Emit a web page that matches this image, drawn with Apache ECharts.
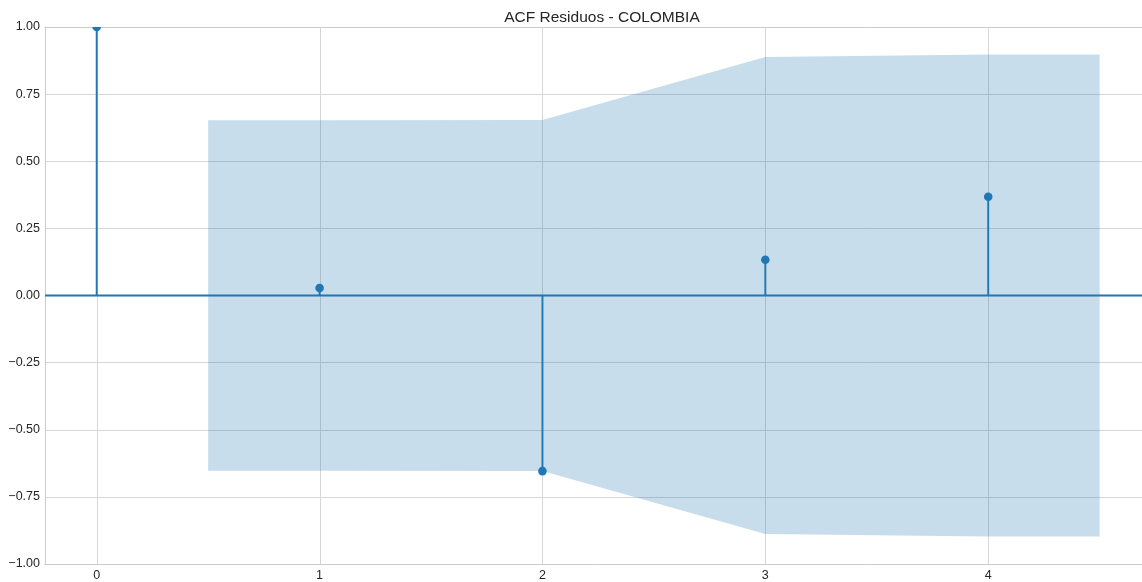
<!DOCTYPE html>
<html>
<head>
<meta charset="utf-8">
<script src="https://cdn.jsdelivr.net/npm/echarts@6/dist/echarts.min.js"></script>
<style>
  html, body { margin: 0; padding: 0; background: #ffffff; }
  #chart { width: 1142px; height: 582px; }
</style>
</head>
<body>
<div id="chart"></div>
<script>
// Autocorrelation of the residuals, lags 0..4
const lags = [0, 1, 2, 3, 4];
const acfValues = [1.0, 0.028, -0.654, 0.133, 0.368];

// Confidence band half-width (band spans lag 0.5 to 4.5)
const bandX = [0.5, 1, 2, 3, 4, 4.5];
const bandHalf = [0.653, 0.653, 0.654, 0.888, 0.898, 0.898];

const xTickLabels = [0, 1, 2, 3, 4];

const X_MIN = -0.232;
const X_MAX = 4.69;

const blue = '#1f77b4';
const gridGray = '#d6d6d6';
const spineGray = '#cccccc';
const textColor = '#262626';
const font = 'Liberation Sans, Arial, sans-serif';

const chart = echarts.init(document.getElementById('chart'), null, { renderer: 'canvas' });

const bandData = bandX.map((x, i) => [x, bandHalf[i]]);
const stemData = lags.map((l, i) => [l, acfValues[i]]);
const vGridData = xTickLabels.map(v => [v, 0]);

const option = {
  animation: false,
  backgroundColor: '#ffffff',
  title: {
    text: 'ACF Residuos - COLOMBIA',
    left: 597,
    top: 5,
    textAlign: 'center',
    textStyle: { fontFamily: font, fontSize: 15.5, fontWeight: 'normal', color: textColor }
  },
  grid: {
    left: 45, right: 0, top: 27, bottom: 16,
    show: false
  },
  xAxis: [
    {
      type: 'value',
      min: X_MIN,
      max: X_MAX,
      axisLine: { show: true, onZero: false, lineStyle: { color: spineGray, width: 1 } },
      axisTick: { show: false, customValues: xTickLabels },
      axisLabel: {
        customValues: xTickLabels,
        margin: 5,
        fontFamily: font, fontSize: 12.5, color: textColor,
        formatter: v => String(v)
      },
      splitLine: { show: false }
    },
    {
      // top spine
      type: 'value',
      position: 'top',
      min: X_MIN,
      max: X_MAX,
      axisLine: { show: true, onZero: false, lineStyle: { color: spineGray, width: 1 } },
      axisTick: { show: false },
      axisLabel: { show: false },
      splitLine: { show: false }
    }
  ],
  yAxis: {
    type: 'value',
    min: -1,
    max: 1,
    interval: 0.25,
    axisLine: { show: true, onZero: false, lineStyle: { color: spineGray, width: 1 } },
    axisTick: { show: false },
    axisLabel: {
      margin: 5,
      fontFamily: font, fontSize: 12.5, color: textColor,
      formatter: v => (v < 0 ? '\u2212' : '') + Math.abs(v).toFixed(2)
    },
    splitLine: { show: true, lineStyle: { color: gridGray, width: 1 } }
  },
  series: [
    {
      // vertical grid lines at each lag
      type: 'custom',
      z: 1,
      silent: true,
      clip: true,
      data: vGridData,
      renderItem: function (params, api) {
        const x = api.value(0);
        const a = api.coord([x, 1]);
        const b = api.coord([x, -1]);
        const px = Math.round(a[0]) + 0.5;
        return {
          type: 'line',
          shape: { x1: px, y1: a[1], x2: px, y2: b[1] },
          style: { stroke: gridGray, lineWidth: 1 }
        };
      }
    },
    {
      // confidence band polygon
      type: 'custom',
      z: 2,
      silent: true,
      clip: true,
      data: bandData,
      renderItem: function (params, api) {
        if (params.dataIndex !== 0) return null;
        const upper = bandData.map(d => api.coord([d[0], d[1]]));
        const lower = bandData.slice().reverse().map(d => api.coord([d[0], -d[1]]));
        return {
          type: 'polygon',
          shape: { points: upper.concat(lower) },
          style: { fill: blue, opacity: 0.25 }
        };
      }
    },
    {
      // zero line
      type: 'custom',
      z: 3,
      silent: true,
      clip: true,
      data: [[0, 0]],
      renderItem: function (params, api) {
        const a = api.coord([X_MIN, 0]);
        const b = api.coord([X_MAX, 0]);
        return {
          type: 'rect',
          shape: { x: a[0], y: a[1] - 0.9, width: b[0] - a[0], height: 1.8 },
          style: { fill: blue }
        };
      }
    },
    {
      // stems and markers
      type: 'custom',
      z: 4,
      clip: true,
      data: stemData,
      renderItem: function (params, api) {
        const x = api.value(0), y = api.value(1);
        const p0 = api.coord([x, 0]);
        const p1 = api.coord([x, y]);
        const top = Math.min(p0[1], p1[1]);
        const h = Math.abs(p1[1] - p0[1]);
        return {
          type: 'group',
          children: [
            {
              type: 'rect',
              shape: { x: p0[0] - 0.95, y: top, width: 1.9, height: h },
              style: { fill: blue }
            },
            {
              type: 'circle',
              shape: { cx: p1[0], cy: p1[1], r: 4.3 },
              style: { fill: blue }
            }
          ]
        };
      }
    }
  ]
};

chart.setOption(option);
</script>
</body>
</html>
